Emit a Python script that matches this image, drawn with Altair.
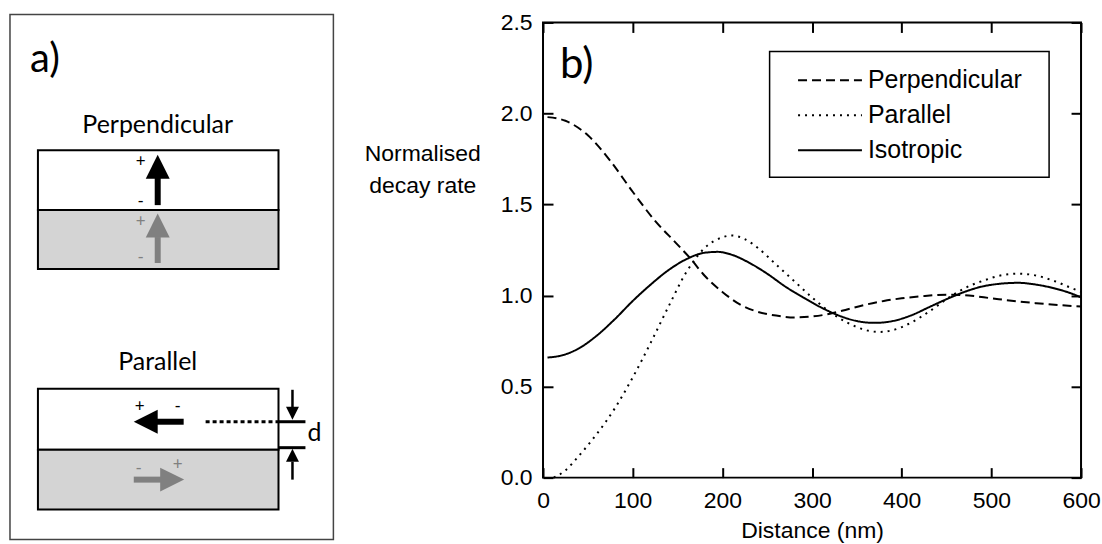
import altair as alt
import pandas as pd

# ---------------- panel b) data ----------------
orientations = ["Perpendicular", "Parallel", "Isotropic"]

perp_dist = [5, 25, 50, 75, 100, 125, 150, 165, 180, 200, 220, 240, 260, 280, 300, 320, 340,
             360, 380, 400, 420, 450, 475, 500, 525, 550, 575, 600]
perp_rate = [1.98, 1.96, 1.88, 1.74, 1.57, 1.41, 1.28, 1.20, 1.11, 1.02, 0.95, 0.91, 0.89, 0.88,
             0.885, 0.90, 0.925, 0.95, 0.97, 0.985, 0.995, 1.005, 1.0, 0.985, 0.97, 0.958, 0.948, 0.94]

para_dist = [12, 25, 40, 60, 80, 100, 120, 140, 160, 180, 200, 210, 225, 240, 260, 280, 300, 320,
             340, 360, 375, 390, 410, 430, 450, 470, 490, 510, 530, 550, 570, 590, 600]
para_rate = [0.0, 0.04, 0.12, 0.24, 0.38, 0.55, 0.74, 0.94, 1.13, 1.26, 1.32, 1.33, 1.31, 1.26,
             1.17, 1.08, 0.99, 0.91, 0.85, 0.81, 0.80, 0.81, 0.85, 0.91, 0.98, 1.04, 1.08, 1.11,
             1.12, 1.11, 1.08, 1.04, 1.02]

iso_dist = [5, 20, 40, 60, 80, 100, 120, 140, 160, 180, 195, 210, 230, 250, 270, 290, 310, 330,
            350, 370, 390, 410, 430, 450, 470, 490, 510, 530, 550, 570, 590, 600]
iso_rate = [0.66, 0.67, 0.71, 0.78, 0.87, 0.97, 1.06, 1.14, 1.20, 1.235, 1.24, 1.225, 1.18, 1.12,
            1.05, 0.99, 0.935, 0.89, 0.86, 0.85, 0.86, 0.89, 0.935, 0.98, 1.02, 1.05, 1.065,
            1.07, 1.06, 1.04, 1.01, 0.99]

x_ticks = [0, 100, 200, 300, 400, 500, 600]
y_ticks = [0.0, 0.5, 1.0, 1.5, 2.0, 2.5]

# ---------------- panel a) schematic (diagram units) ----------------
frame_x0, frame_x1, frame_y0, frame_y1 = [9], [333], [14], [540]

slab_x0 = [37, 37, 37, 37]
slab_x1 = [278, 278, 278, 278]
slab_y0 = [150, 210, 389, 450]
slab_y1 = [210, 269, 450, 510]
slab_fill = ["white", "#d4d4d4", "white", "#d4d4d4"]

shaft_x0 = [157, 157, 183, 133, 292, 292, 278, 278]
shaft_x1 = [157, 157, 156, 161, 292, 292, 305, 305]
shaft_y0 = [205, 263, 422, 480, 390, 462, 422, 448]
shaft_y1 = [177, 237, 422, 480, 408, 480, 422, 448]
shaft_col = ["black", "#808080", "black", "#808080", "black", "black", "black", "black"]
shaft_w = [6, 6, 6, 6, 2.5, 2.5, 3, 3]

dot_x0, dot_x1, dot_y = [205], [278], [422]

head_x = [157, 157, 145, 171.5, 292, 292]
head_y = [166.5, 225.5, 422, 480, 413.5, 455.5]
head_rot = [0, 0, 270, 90, 180, 0]
head_col = ["black", "#808080", "black", "#808080", "black", "black"]
head_size = [576, 576, 576, 576, 169, 169]

title_text = ["a)", "Perpendicular", "Parallel"]
title_x = [44, 157, 157]
title_y = [72, 133, 370]
title_size = [40, 25, 25]

sign_text = ["+", "-", "+", "-", "+", "-", "-", "+", "d"]
sign_x = [140, 140, 140, 140, 139, 177, 138, 177, 314]
sign_y = [162, 202, 222, 258, 407, 407, 469, 465, 433]
sign_col = ["black", "black", "#808080", "#808080", "black", "black", "#808080", "#808080", "black"]
sign_size = [17, 17, 17, 17, 17, 17, 17, 17, 25]

# ---------------- build panel a) ----------------
xs = alt.Scale(domain=[9, 333], nice=False, zero=False)
ys = alt.Scale(domain=[22, 478], nice=False, zero=False, reverse=True)


def X(f):
    return alt.X(f, type="quantitative", scale=xs, axis=None)


def Y(f):
    return alt.Y(f, type="quantitative", scale=ys, axis=None)


frame = alt.Chart(pd.DataFrame({"x0": frame_x0, "x1": frame_x1, "y0": frame_y0, "y1": frame_y1})).mark_rect(
    fillOpacity=0, stroke="#444444", strokeWidth=1.5
).encode(x=X("x0"), x2="x1", y=Y("y0"), y2="y1")

slabs = alt.Chart(pd.DataFrame({"x0": slab_x0, "x1": slab_x1, "y0": slab_y0, "y1": slab_y1,
                                "fill": slab_fill})).mark_rect(stroke="black", strokeWidth=2).encode(
    x=X("x0"), x2="x1", y=Y("y0"), y2="y1", fill=alt.Fill("fill:N", scale=None)
)

shafts = alt.Chart(pd.DataFrame({"x0": shaft_x0, "x1": shaft_x1, "y0": shaft_y0, "y1": shaft_y1,
                                 "col": shaft_col, "w": shaft_w})).mark_rule(strokeCap="butt").encode(
    x=X("x0"), x2="x1", y=Y("y0"), y2="y1",
    color=alt.Color("col:N", scale=None), strokeWidth=alt.StrokeWidth("w:Q", scale=None)
)

dotted = alt.Chart(pd.DataFrame({"x0": dot_x0, "x1": dot_x1, "y0": dot_y})).mark_rule(
    color="black", strokeWidth=3, strokeDash=[4, 3]
).encode(x=X("x0"), x2="x1", y=Y("y0"))

heads = alt.Chart(pd.DataFrame({"x": head_x, "y": head_y, "rot": head_rot, "col": head_col,
                                "s": head_size})).mark_point(
    shape="M0,-1L1,1L-1,1Z", filled=True, opacity=1, strokeWidth=0
).encode(
    x=X("x"), y=Y("y"), angle=alt.Angle("rot:Q", scale=None),
    color=alt.Color("col:N", scale=None), size=alt.Size("s:Q", scale=None)
)

titles = alt.Chart(pd.DataFrame({"t": title_text, "x": title_x, "y": title_y, "s": title_size})).mark_text(
    font="Lato", baseline="alphabetic", align="center", color="black"
).encode(x=X("x"), y=Y("y"), text="t:N", size=alt.Size("s:Q", scale=None))

signs = alt.Chart(pd.DataFrame({"t": sign_text, "x": sign_x, "y": sign_y, "col": sign_col,
                                "s": sign_size})).mark_text(
    font="Lato", baseline="middle", align="center"
).encode(x=X("x"), y=Y("y"), text="t:N", size=alt.Size("s:Q", scale=None),
         color=alt.Color("col:N", scale=None))

panel_a = alt.layer(frame, slabs, shafts, dotted, heads, titles, signs).properties(
    width=324, height=456, view=alt.ViewBackground(stroke="transparent")
)

# ---------------- build panel b) ----------------
rows = []
for name, ds, vs in [("Perpendicular", perp_dist, perp_rate),
                     ("Parallel", para_dist, para_rate),
                     ("Isotropic", iso_dist, iso_rate)]:
    for d, v in zip(ds, vs):
        rows.append({"Distance": d, "Rate": v, "Orientation": name})
df = pd.DataFrame(rows)

xsc = alt.Scale(domain=[0, 600], nice=False, zero=False)
ysc = alt.Scale(domain=[0, 2.5], nice=False, zero=False)
FONT = "Liberation Sans"

# inward ticks: axis moved 10px inside the frame, with 10px outward ticks
tick_opts = dict(domain=False, ticks=True, tickSize=10, tickWidth=2, tickColor="black",
                 offset=-10, grid=False)

lines = alt.Chart(df).mark_line(color="black", strokeWidth=2, interpolate="monotone").encode(
    x=alt.X("Distance:Q", scale=xsc, axis=alt.Axis(
        values=x_ticks, format="d", title="Distance (nm)", orient="bottom",
        labelPadding=12, labelFont=FONT, labelFontSize=23, labelColor="black",
        labelOverlap=False, labelFlush=False,
        titleFont=FONT, titleFontSize=23, titleFontWeight="normal", titleColor="black",
        titleY=63, titleBaseline="middle", **tick_opts)),
    y=alt.Y("Rate:Q", scale=ysc, axis=alt.Axis(
        values=y_ticks, format=".1f", title=["Normalised", "decay rate"], orient="left",
        labelPadding=11, labelFont=FONT, labelFontSize=23,
        labelColor="black", labelOverlap=False, labelFlush=False,
        titleFont=FONT, titleFontSize=23, titleFontWeight="normal", titleColor="black",
        titleAngle=0, titleAlign="center", titleBaseline="middle", titleX=-131, titleY=131,
        titleLineHeight=32, **tick_opts)),
    strokeDash=alt.StrokeDash("Orientation:N", sort=orientations, scale=alt.Scale(
        domain=orientations, range=[[9, 5], [2, 5], [1, 0]]), legend=alt.Legend(
        orient="none", legendX=761, legendY=29, title=None, strokeColor="transparent", padding=11.5,
        symbolType="stroke", symbolSize=4096, symbolStrokeWidth=2, symbolStrokeColor="black",
        labelFont=FONT, labelFontSize=25, labelColor="black", clipHeight=35, rowPadding=0,
        symbolOffset=16, labelOffset=5)),
)

# second set of axes on top and right (ticks only)
mirror = alt.Chart(df).mark_line(opacity=0).encode(
    x=alt.X("Distance:Q", scale=xsc, axis=alt.Axis(
        values=x_ticks, orient="top", labels=False, title="", **tick_opts)),
    y=alt.Y("Rate:Q", scale=ysc, axis=alt.Axis(
        values=y_ticks, orient="right", labels=False, title="", **tick_opts)),
    detail="Orientation:N",
)

legend_box = alt.Chart(pd.DataFrame({"k": [0]})).mark_rect(
    fillOpacity=0, stroke="black", strokeWidth=1.5
).encode(x=alt.value(227), x2=alt.value(507), y=alt.value(29), y2=alt.value(155))

b_label = alt.Chart(pd.DataFrame({"t": ["b)"]})).mark_text(
    font="Lato", fontSize=42, align="left", baseline="alphabetic", color="black"
).encode(text="t:N", x=alt.value(17), y=alt.value(56))

panel_b = alt.layer(lines, mirror, legend_box, b_label).resolve_axis(
    x="independent", y="independent"
).properties(
    width=539, height=456, view=alt.ViewBackground(stroke="black", strokeWidth=2)
)

chart = alt.hconcat(panel_a, panel_b, spacing=210, bounds="flush").resolve_scale(
    x="independent", y="independent"
).properties(padding={"left": 8, "top": 10, "right": 0, "bottom": 0}).configure(background="white")

chart.save("out.html", embed_options={"renderer": "svg", "actions": False})
